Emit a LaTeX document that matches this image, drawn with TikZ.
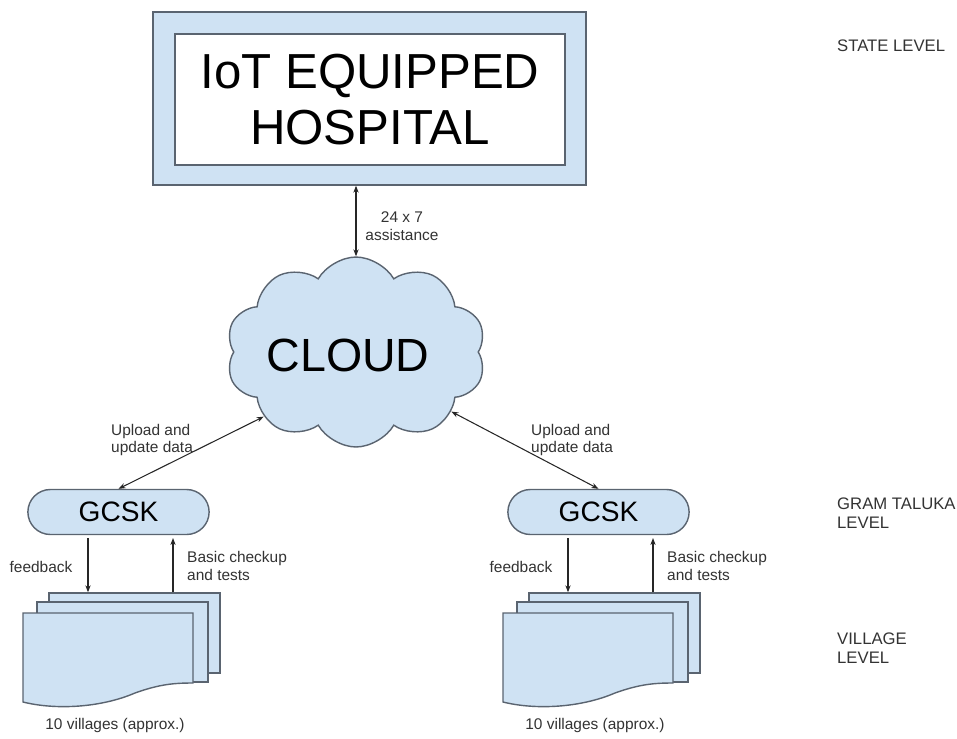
\documentclass[tikz,border=0pt]{standalone}
\usepackage{fontspec}
\setmainfont{Liberation Sans}
\usetikzlibrary{positioning,shapes.symbols,shapes.misc,arrows.meta}
\definecolor{paleblue}{HTML}{CFE2F3}
\definecolor{edgegray}{HTML}{5A6470}
\definecolor{inkgray}{HTML}{333333}
\tikzset{
  box node/.style={
    draw=edgegray,
    fill=paleblue,
    line width=0.8pt,
  },
  hospital outer/.style={
    box node,
    minimum width=8.66cm,
    minimum height=3.46cm,
  },
  hospital inner/.style={
    draw=edgegray,
    fill=white,
    line width=0.8pt,
    minimum width=7.8cm,
    minimum height=2.62cm,
    align=center,
    font=\fontsize{28}{32}\selectfont,
  },
  cloud node/.style={
    box node,
    cloud,
    cloud puffs=10,
    cloud puff arc=120,
    aspect=1.35,
    minimum width=5.2cm,
    minimum height=3.8cm,
    font=\fontsize{26.5}{30}\selectfont,
  },
  gcsk node/.style={
    box node,
    rounded rectangle,
    minimum width=3.86cm,
    minimum height=0.9cm,
    font=\fontsize{16}{18}\selectfont,
  },
  page node/.style={
    box node,
    minimum width=3.42cm,
    minimum height=1.6cm,
  },
  link label/.style={
    font=\fontsize{8.8}{10}\selectfont,
    text=inkgray,
    align=left,
  },
  level label/.style={
    font=\fontsize{9.5}{11}\selectfont,
    text=inkgray,
    align=left,
    anchor=west,
  },
  both link/.style={
    draw=black!85,
    line width=0.6pt,
    {Stealth[length=4pt,width=3pt]}-{Stealth[length=4pt,width=3pt]},
  },
  one link/.style={
    draw=black!85,
    line width=0.6pt,
    -{Stealth[length=4pt,width=3pt]},
  },
}

\begin{document}
\begin{tikzpicture}[x=0.02cm, y=-0.02cm]
  \useasboundingbox (0,0) rectangle (957,738);

  % --- State level ---
  \node[hospital outer] (hosp) at (369.5,98.5) {};
  \node[hospital inner] (hospin) at (370,99.5) {IoT EQUIPPED\\HOSPITAL};

  % --- Cloud ---
  \node[cloud node] (cloud) at (356,352) {};
  \node[font=\fontsize{26.5}{30}\selectfont] (cloudtext) at (348,355) {CLOUD};

  \draw[both link] (cloud.north |- hosp.south) -- (cloud.north);
  \node[link label, align=center] (assist) at (402,226) {24 x 7\\assistance};

  % --- Gram taluka and village levels (two branches) ---
  \foreach \s/\dx/\ang in {L/0/215, R/480/-32} {
    \node[gcsk node] (gcsk\s) at (\dx+118.5,512) {GCSK};
    \node[page node] (back\s) at (\dx+134.5,633) {};
    \node[page node] (mid\s) at (\dx+122.5,642) {};
    % front page with wavy bottom
    \draw[box node] (\dx+23,613) -- (\dx+193,613) -- (\dx+193,683)
      .. controls (\dx+175,683) and (\dx+160,684) .. (\dx+135,693)
      .. controls (\dx+100,708) and (\dx+55,710) .. (\dx+23,702) -- cycle;

    \draw[both link] (gcsk\s.north) -- (cloud.\ang);

    \coordinate (fb\s) at (\dx+88,538);
    \coordinate (ck\s) at (\dx+173,538);
    \draw[one link] (fb\s) -- (fb\s |- back\s.north);
    \draw[one link] (ck\s |- back\s.north) -- (ck\s);

    \node[link label] (fbl\s) at (\dx+41,567) {feedback};
    \node[link label, anchor=west] (ckl\s) at (\dx+181,566) {Basic checkup\\and tests};
    \node[link label] (vil\s) at (\dx+115,725) {10 villages (approx.)};
  }

  \node[link label, anchor=west] (upL) at (105,440) {Upload and\\update data};
  \node[link label, anchor=west] (upR) at (525,440) {Upload and\\update data};

  % --- Level labels ---
  \node[level label] (state) at (831,46) {STATE LEVEL};
  \node[level label] (gram) at (831,513) {GRAM TALUKA\\LEVEL};
  \node[level label] (village) at (831,648) {VILLAGE\\LEVEL};

\end{tikzpicture}
\end{document}
